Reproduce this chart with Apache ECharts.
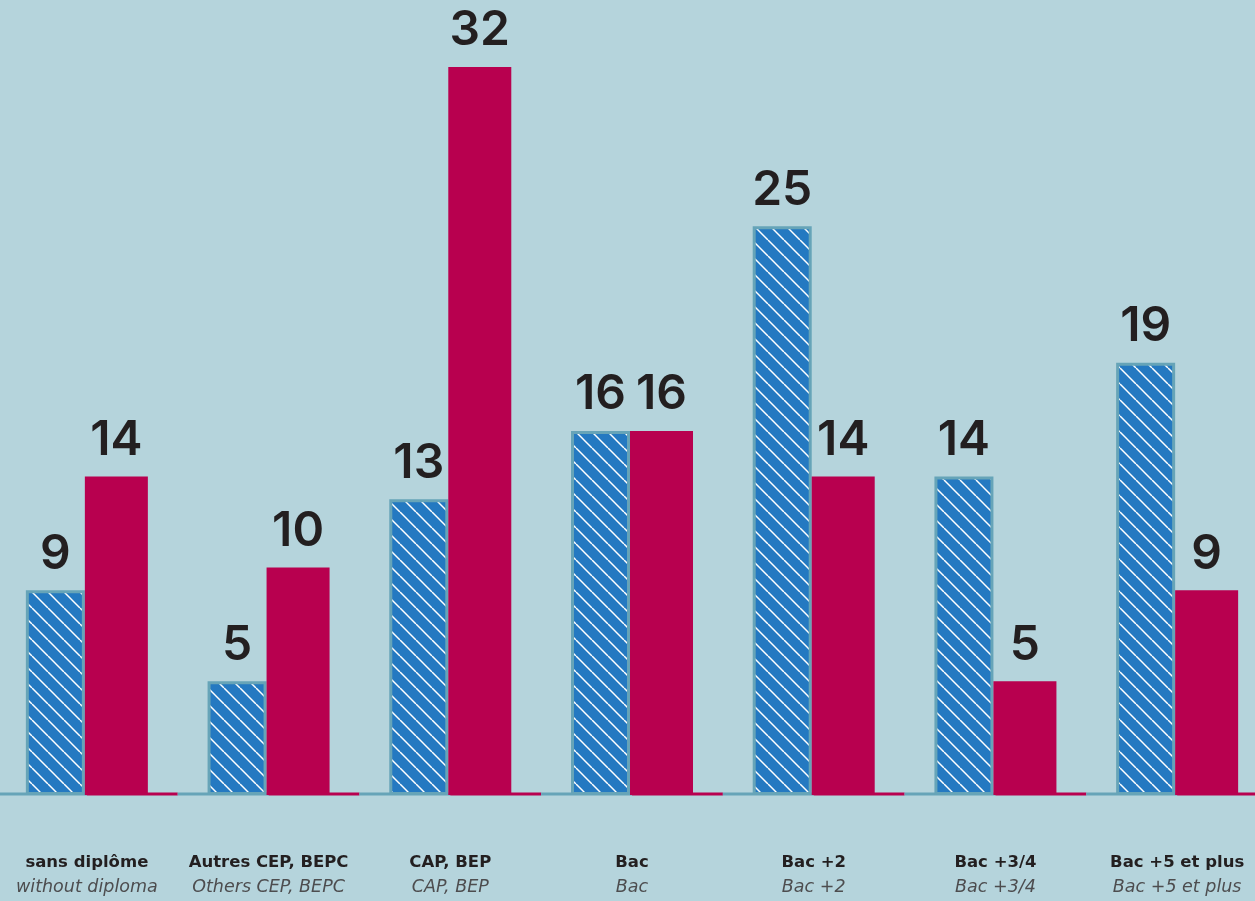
<!DOCTYPE html>
<html>
<head>
<meta charset="utf-8">
<script src="https://cdn.jsdelivr.net/npm/echarts@6/dist/echarts.min.js"></script>
<style>
  html, body { margin: 0; padding: 0; background: #b5d4dc; }
  #chart { width: 1255px; height: 901px; }
</style>
</head>
<body>
<div id="chart"></div>
<script>
// categories (french / english)
var labelsFr = ['sans diplôme', 'Autres CEP, BEPC', 'CAP, BEP', 'Bac', 'Bac +2', 'Bac +3/4', 'Bac +5 et plus'];
var labelsEn = ['without diploma', 'Others CEP, BEPC', 'CAP, BEP', 'Bac', 'Bac +2', 'Bac +3/4', 'Bac +5 et plus'];

// values
var blueValues = [9, 5, 13, 16, 25, 14, 19];
var redValues = [14, 10, 32, 16, 14, 5, 9];

// hatch pattern for the blue bars
function makeHatch() {
    var s = 16;
    var c = document.createElement('canvas');
    c.width = s; c.height = s;
    var ctx = c.getContext('2d');
    ctx.fillStyle = '#2479c1';
    ctx.fillRect(0, 0, s, s);
    ctx.strokeStyle = '#ffffff';
    ctx.lineWidth = 1.5;
    for (var k = -1; k <= 1; k++) {
        ctx.beginPath();
        ctx.moveTo(k * s, 0);
        ctx.lineTo(k * s + s, s);
        ctx.stroke();
    }
    return c;
}

var valueLabel = {
    show: true,
    position: 'top',
    distance: 12,
    color: '#231f20',
    fontFamily: 'Inter',
    fontWeight: 600,
    fontSize: 48
};

var option = {
    backgroundColor: '#b5d4dc',
    animation: false,
    grid: { left: -4, width: 1272, top: 67, bottom: 106, containLabel: false, outerBoundsMode: 'none' },
    xAxis: {
        type: 'category',
        data: labelsFr,
        axisLine: { show: false },
        axisTick: { show: false },
        axisLabel: {
            margin: 55,
            interval: 0,
            formatter: function (v, i) {
                return '{b|' + v + '}\n{i|' + labelsEn[i] + '}';
            },
            rich: {
                b: { fontFamily: 'DejaVu Sans', fontWeight: 'bold', fontSize: 16.5, color: '#231f20', lineHeight: 25 },
                i: { fontFamily: 'DejaVu Sans', fontStyle: 'italic', fontSize: 17.5, color: '#4d4d4f', lineHeight: 25 }
            }
        }
    },
    yAxis: {
        type: 'value',
        min: 0,
        max: 32,
        show: false,
        splitLine: { show: false }
    },
    series: [
        {
            // baseline segments: teal on left half of each category, crimson on right half
            type: 'custom',
            z: 1,
            silent: true,
            data: labelsFr.map(function (d, i) { return [i, 0]; }),
            renderItem: function (params, api) {
                var p = api.coord([api.value(0), 0]);
                var w = api.size([1, 0])[0];
                var y = p[1] - 1;
                return {
                    type: 'group',
                    children: [
                        { type: 'line', shape: { x1: p[0] - w / 2, y1: y, x2: p[0], y2: y }, style: { stroke: '#66a4b8', lineWidth: 3 } },
                        { type: 'line', shape: { x1: p[0], y1: y, x2: p[0] + w / 2, y2: y }, style: { stroke: '#b8004f', lineWidth: 3 } }
                    ]
                };
            }
        },
        {
            name: 'blue',
            type: 'bar',
            z: 2,
            barWidth: 59,
            barGap: '0%',
            data: blueValues,
            itemStyle: {
                color: { image: makeHatch(), repeat: 'repeat' },
                borderColor: '#66a4b8',
                borderWidth: 3
            },
            label: valueLabel
        },
        {
            name: 'red',
            type: 'bar',
            z: 2,
            barWidth: 63,
            barGap: '0%',
            data: redValues,
            itemStyle: { color: '#b8004f' },
            label: valueLabel
        }
    ]
};

var myChart = echarts.init(document.getElementById('chart'));
myChart.setOption(option);
</script>
</body>
</html>
